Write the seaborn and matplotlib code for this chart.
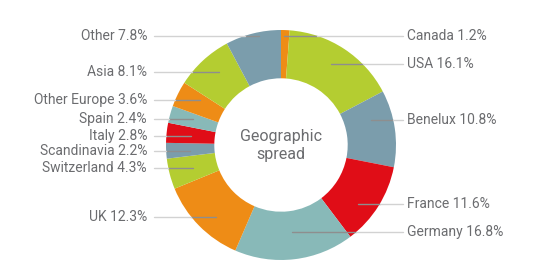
import numpy as np
import matplotlib
matplotlib.use("Agg")
import matplotlib.pyplot as plt
import seaborn as sns

# ---- data ----
regions = ["Canada", "USA", "Benelux", "France", "Germany", "UK", "Switzerland",
           "Scandinavia", "Italy", "Spain", "Other Europe", "Asia", "Other"]
shares = [1.2, 16.1, 10.8, 11.6, 16.8, 12.3, 4.3, 2.2, 2.8, 2.4, 3.6, 8.1, 7.8]
center_title = "Geographic\nspread"

# ---- styling / layout ----
ORANGE, LIME, SLATE, RED, TEAL = "#ee8c16", "#b4cd31", "#7b9dac", "#e00d17", "#88b9b8"
colors = [ORANGE, LIME, SLATE, RED, TEAL, ORANGE, LIME, SLATE, RED, TEAL, ORANGE, LIME, SLATE]
label_y = [0.950, 0.702, 0.217, -0.513, -0.757, -0.623, -0.203, -0.050, 0.081, 0.223, 0.391, 0.632, 0.950]
TEXT = "#6b6c6f"

sns.set_theme(style="white")
plt.rcParams["font.family"] = ["Roboto", "DejaVu Sans"]

fig = plt.figure(figsize=(5.34, 2.64), dpi=100)
ax = fig.add_axes([166 / 534, 4 / 264, 230 / 534, 230 / 264])

R = 1.0
W = 0.42
wedges, _ = ax.pie(shares, colors=colors, startangle=90, counterclock=False,
                   radius=R, wedgeprops=dict(width=W, edgecolor="none", linewidth=0))
ax.set_xlim(-1, 1)
ax.set_ylim(-1, 1)
ax.set_aspect("equal")
ax.axis("off")

total = sum(shares)
cum = np.cumsum([0] + shares[:-1])
rho = 0.79
for name, val, c0, ly in zip(regions, shares, cum, label_y):
    mid = (c0 + val / 2) / total * 2 * np.pi
    ax_x = rho * np.sin(mid)
    right = ax_x >= 0
    edge = np.sqrt(max(R ** 2 - ly ** 2, 0))
    if right:
        x_end, x_txt, ha = 1.061, 1.096, "left"
        x_edge = edge
    else:
        x_end, x_txt, ha = -1.104, -1.165, "right"
        x_edge = -edge
    ax.plot([ax_x, x_edge], [ly, ly], color="#8e8e8e", lw=1.0, clip_on=False, zorder=3)
    ax.plot([x_edge, x_end], [ly, ly], color="#d2d2d2", lw=1.0, clip_on=False, zorder=3)
    ax.text(x_txt, ly, f"{name} {val:.1f}%", ha=ha, va="center", fontsize=10,
            color=TEXT, clip_on=False)

ax.text(0, 0, center_title, ha="center", va="center", fontsize=11.5, color=TEXT,
        linespacing=1.25)

fig.savefig("out.png", dpi=100)
